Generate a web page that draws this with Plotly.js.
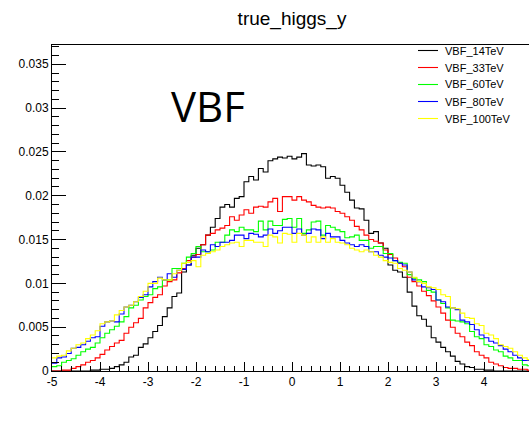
<!DOCTYPE html>
<html>
<head>
<meta charset="utf-8">
<script src="https://cdn.plot.ly/plotly-3.0.1.min.js"></script>
<style>html,body{margin:0;padding:0;background:#fff;}#chart{width:529px;height:435px;}</style>
</head>
<body>
<div id="chart"></div>
<script>
// Histogram binning: 100 bins from -5 to 5
const binLow = -5;
const binWidth = 0.1;

const seriesNames = ["VBF_14TeV", "VBF_33TeV", "VBF_60TeV", "VBF_80TeV", "VBF_100TeV"];
const seriesColors = ["#000000", "#ff0000", "#00ff00", "#0000ff", "#ffff00"];

const vbf14 = [0,0,0,0,0,0,0,0,0.0001,0.0001,
 0.0002,0.0002,0.0003,0.0005,0.0007,0.0010,0.0016,0.0018,0.0027,0.0031,
 0.0038,0.0045,0.0052,0.0062,0.0072,0.0085,0.0089,0.0113,0.0121,0.0132,
 0.0140,0.0144,0.0155,0.0164,0.0174,0.0187,0.0190,0.0187,0.0197,0.0199,
 0.0216,0.0222,0.0218,0.0231,0.0227,0.0240,0.0242,0.0244,0.0243,0.0245,
 0.0242,0.0244,0.0248,0.0235,0.0234,0.0235,0.0233,0.0220,0.0222,0.0220,
 0.0212,0.0204,0.0195,0.0186,0.0185,0.0172,0.0157,0.0159,0.0146,0.0140,
 0.0121,0.0115,0.0113,0.0107,0.0090,0.0074,0.0063,0.0059,0.0051,0.0038,
 0.0033,0.0027,0.0022,0.0017,0.0011,0.0008,0.0005,0.0004,0.0002,0.0002,
 0.0001,0.0001,0,0,0,0,0,0,0,0];

const vbf33 = [0,0,0.0001,0.0001,0.0003,0.0005,0.0007,0.0010,0.0012,0.0015,
 0.0019,0.0024,0.0028,0.0032,0.0035,0.0043,0.0050,0.0055,0.0060,0.0072,
 0.0078,0.0084,0.0087,0.0097,0.0102,0.0104,0.0112,0.0117,0.0126,0.0130,
 0.0133,0.0144,0.0155,0.0157,0.0161,0.0163,0.0166,0.0176,0.0172,0.0178,
 0.0184,0.0180,0.0187,0.0188,0.0187,0.0193,0.0197,0.0182,0.0199,0.0199,
 0.0195,0.0199,0.0195,0.0193,0.0189,0.0187,0.0186,0.0187,0.0186,0.0182,
 0.0180,0.0176,0.0172,0.0165,0.0161,0.0155,0.0150,0.0148,0.0146,0.0138,
 0.0133,0.0129,0.0123,0.0119,0.0107,0.0102,0.0097,0.0091,0.0086,0.0080,
 0.0073,0.0066,0.0058,0.0050,0.0043,0.0039,0.0033,0.0029,0.0022,0.0018,
 0.0015,0.0010,0.0008,0.0006,0.0004,0.0003,0.0003,0.0002,0.0002,0.0001];

const vbf60 = [0.0005,0.0006,0.0010,0.0012,0.0014,0.0018,0.0022,0.0025,0.0027,0.0032,
 0.0038,0.0043,0.0047,0.0051,0.0056,0.0062,0.0072,0.0075,0.0081,0.0085,
 0.0087,0.0094,0.0096,0.0104,0.0104,0.0117,0.0117,0.0123,0.0130,0.0134,
 0.0142,0.0136,0.0136,0.0138,0.0147,0.0147,0.0155,0.0161,0.0159,0.0164,
 0.0161,0.0161,0.0159,0.0171,0.0161,0.0171,0.0166,0.0166,0.0173,0.0174,
 0.0164,0.0174,0.0157,0.0161,0.0170,0.0171,0.0155,0.0166,0.0164,0.0161,
 0.0159,0.0152,0.0153,0.0155,0.0149,0.0149,0.0140,0.0142,0.0142,0.0134,
 0.0134,0.0126,0.0124,0.0123,0.0110,0.0106,0.0104,0.0102,0.0092,0.0090,
 0.0081,0.0077,0.0072,0.0058,0.0057,0.0056,0.0054,0.0045,0.0039,0.0037,
 0.0030,0.0028,0.0024,0.0022,0.0017,0.0015,0.0012,0.0012,0.0007,0.0006];

const vbf80 = [0.0009,0.0015,0.0016,0.0020,0.0026,0.0027,0.0030,0.0034,0.0038,0.0039,
 0.0051,0.0056,0.0057,0.0056,0.0065,0.0073,0.0075,0.0079,0.0084,0.0087,
 0.0096,0.0102,0.0107,0.0104,0.0111,0.0107,0.0115,0.0116,0.0121,0.0130,
 0.0130,0.0138,0.0136,0.0144,0.0142,0.0147,0.0147,0.0149,0.0155,0.0155,
 0.0151,0.0157,0.0156,0.0153,0.0155,0.0162,0.0157,0.0160,0.0164,0.0164,
 0.0157,0.0162,0.0155,0.0157,0.0162,0.0161,0.0151,0.0157,0.0153,0.0153,
 0.0149,0.0146,0.0144,0.0142,0.0144,0.0142,0.0136,0.0136,0.0132,0.0130,
 0.0129,0.0126,0.0123,0.0121,0.0113,0.0104,0.0102,0.0096,0.0095,0.0093,
 0.0081,0.0079,0.0073,0.0072,0.0070,0.0058,0.0056,0.0053,0.0047,0.0041,
 0.0038,0.0034,0.0032,0.0029,0.0025,0.0022,0.0018,0.0015,0.0012,0.0012];

const vbf100 = [0.0015,0.0017,0.0018,0.0023,0.0026,0.0030,0.0032,0.0037,0.0041,0.0046,
 0.0054,0.0056,0.0057,0.0064,0.0069,0.0073,0.0075,0.0079,0.0085,0.0091,
 0.0100,0.0100,0.0106,0.0104,0.0104,0.0111,0.0115,0.0123,0.0124,0.0126,
 0.0119,0.0132,0.0134,0.0136,0.0138,0.0142,0.0144,0.0146,0.0147,0.0142,
 0.0149,0.0149,0.0147,0.0147,0.0142,0.0155,0.0153,0.0146,0.0157,0.0156,
 0.0147,0.0157,0.0155,0.0147,0.0153,0.0147,0.0153,0.0147,0.0151,0.0147,
 0.0146,0.0144,0.0140,0.0138,0.0136,0.0138,0.0136,0.0132,0.0130,0.0126,
 0.0124,0.0123,0.0117,0.0115,0.0113,0.0107,0.0102,0.0100,0.0096,0.0095,
 0.0093,0.0087,0.0085,0.0072,0.0071,0.0066,0.0061,0.0060,0.0054,0.0052,
 0.0043,0.0041,0.0037,0.0030,0.0028,0.0026,0.0022,0.0018,0.0015,0.0013];

const xTickVals = [-5, -4, -3, -2, -1, 0, 1, 2, 3, 4];
const xTickText = ["-5", "-4", "-3", "-2", "-1", "0", "1", "2", "3", "4"];
const yTickVals = [0, 0.005, 0.01, 0.015, 0.02, 0.025, 0.03, 0.035];
const yTickText = ["0", "0.005", "0.01", "0.015", "0.02", "0.025", "0.03", "0.035"];

const allSeries = [vbf14, vbf33, vbf60, vbf80, vbf100];

function stepTrace(vals, name, color) {
  const xs = [], ys = [];
  for (let i = 0; i < vals.length; i++) {
    xs.push(binLow + i * binWidth);
    ys.push(vals[i]);
  }
  xs.push(binLow + vals.length * binWidth);
  ys.push(vals[vals.length - 1]);
  return {
    type: "scatter", mode: "lines", x: xs, y: ys, name: name,
    line: {shape: "hv", color: color, width: 1.1},
    hoverinfo: "skip", showlegend: false
  };
}

const traces = allSeries.map((s, i) => stepTrace(s, seriesNames[i], seriesColors[i]));

const font = "Liberation Sans, Arial, Helvetica, sans-serif";

// Plot area geometry (px) used to place the legend box in paper coordinates
const plotL = 52, plotT = 45, plotW = 477, plotH = 326;
const px2x = p => (p - plotL) / plotW;
const py2y = p => (plotT + plotH - p) / plotH;

const shapes = [];
const annotations = [];
seriesNames.forEach((nm, i) => {
  const yy = py2y(50.5 + 17 * i);
  shapes.push({type: "line", xref: "paper", yref: "paper",
    x0: px2x(418), x1: px2x(438), y0: yy, y1: yy,
    line: {color: seriesColors[i], width: 1.1}});
  annotations.push({text: nm, xref: "paper", yref: "paper",
    x: px2x(443), y: yy, xanchor: "left", yanchor: "middle", showarrow: false,
    font: {family: font, size: 11, color: "#000"}});
});
annotations.push({
  text: "VBF", xref: "paper", yref: "paper", x: px2x(208), y: py2y(105),
  xanchor: "center", yanchor: "middle", showarrow: false,
  font: {family: "Open Sans, sans-serif", size: 42, color: "#000"}
});

const layout = {
  width: 529, height: 435, autosize: false,
  margin: {l: 52, r: 0, t: 45, b: 64, pad: 0},
  paper_bgcolor: "#ffffff", plot_bgcolor: "#ffffff",
  font: {family: font, size: 12, color: "#000"},
  showlegend: false,
  title: {
    text: "true_higgs_y",
    font: {family: font, size: 19, color: "#000"},
    x: 0.552, xanchor: "center", xref: "container",
    y: 0.958, yanchor: "middle", yref: "container"
  },
  xaxis: {
    range: [-5, 4.9375], showgrid: false, zeroline: false,
    showline: true, linecolor: "#000", linewidth: 1, mirror: true,
    ticks: "inside", ticklen: 9, tickwidth: 1, tickcolor: "#000",
    tickvals: xTickVals, ticktext: xTickText,
    tickfont: {family: font, size: 12, color: "#000"},
    minor: {ticks: "inside", ticklen: 5, dtick: 0.2, tick0: 0, tickcolor: "#000", tickwidth: 1, showgrid: false}
  },
  yaxis: {
    range: [0, 0.0372], showgrid: false, zeroline: false,
    showline: true, linecolor: "#000", linewidth: 1, mirror: false,
    ticks: "inside", ticklen: 14, tickwidth: 1, tickcolor: "#000",
    tickvals: yTickVals, ticktext: yTickText,
    tickfont: {family: font, size: 12, color: "#000"},
    minor: {ticks: "inside", ticklen: 7, dtick: 0.001, tick0: 0, tickcolor: "#000", tickwidth: 1, showgrid: false}
  },
  shapes: shapes,
  annotations: annotations
};

Plotly.newPlot("chart", traces, layout, {displayModeBar: false, staticPlot: true});
</script>
</body>
</html>
